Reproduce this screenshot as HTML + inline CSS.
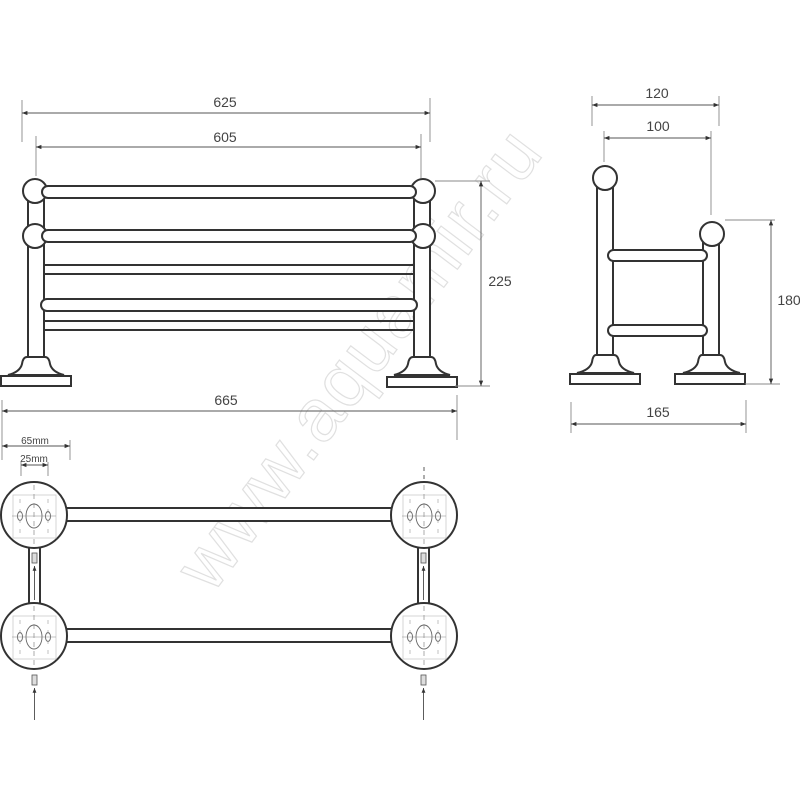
<!DOCTYPE html>
<html><head><meta charset="utf-8"><style>
html,body{margin:0;padding:0;background:#fff;}
svg{display:block;}
text{font-family:"Liberation Sans","DejaVu Sans",sans-serif;}
</style></head><body>
<svg width="800" height="800" viewBox="0 0 800 800" xmlns="http://www.w3.org/2000/svg">
<defs>
<marker id="a" viewBox="0 0 10 10" refX="10" refY="5" markerWidth="6" markerHeight="6" orient="auto-start-reverse"><path d="M0,1 L10,5 L0,9z" fill="#333"/></marker>
<g id="mount">
  <circle cx="0" cy="0" r="33" fill="#fff" stroke="#333" stroke-width="2"/>
  <rect x="-21" y="-20" width="43" height="43" fill="none" stroke="#ccc" stroke-width="0.8"/>
  <ellipse cx="0" cy="1" rx="8" ry="12" fill="none" stroke="#666" stroke-width="0.9"/>
  <ellipse cx="-14" cy="1" rx="2.5" ry="4.5" fill="none" stroke="#666" stroke-width="0.9"/>
  <ellipse cx="14" cy="1" rx="2.5" ry="4.5" fill="none" stroke="#666" stroke-width="0.9"/>
  <line x1="-22" y1="1" x2="22" y2="1" stroke="#888" stroke-width="0.6"/>
  <line x1="0" y1="-30" x2="0" y2="32" stroke="#888" stroke-width="0.7" stroke-dasharray="5,4"/>
  <line x1="-14" y1="-16" x2="-14" y2="20" stroke="#999" stroke-width="0.6" stroke-dasharray="4,6"/>
  <line x1="14" y1="-16" x2="14" y2="20" stroke="#999" stroke-width="0.6" stroke-dasharray="4,6"/>
</g>
</defs>

<!-- watermark -->
<text x="0" y="0" transform="translate(212,595) rotate(-53)" font-size="74" fill="#fff" stroke="#e0e0e0" stroke-width="1.2" letter-spacing="2">www.aquamir.ru</text>

<g stroke="#333" stroke-width="2" fill="#fff">
<!-- FRONT VIEW posts -->
<rect x="28" y="195" width="16" height="162"/>
<path d="M27,357 L45,357 Q49,357 50,364 Q52,372 64,375 L8,375 Q20,372 22,364 Q23,357 27,357Z"/>
<rect x="1" y="376" width="70" height="10"/>
<circle cx="35" cy="191" r="12"/><circle cx="35" cy="236" r="12"/>
<rect x="414" y="195" width="16" height="162"/>
<path d="M413,357 L431,357 Q435,357 436,364 Q438,372 450,375 L394,375 Q406,372 408,364 Q409,357 413,357Z"/>
<rect x="387" y="377" width="70" height="10"/>
<circle cx="423" cy="191" r="12"/><circle cx="423" cy="236" r="12"/>
<!-- rails -->
<rect x="42" y="186" width="374" height="12" rx="6"/>
<rect x="42" y="230" width="374" height="12" rx="6"/>
<rect x="41" y="299" width="376" height="12" rx="6"/>
<line x1="44" y1="265" x2="414" y2="265"/><line x1="44" y1="274" x2="414" y2="274"/>
<line x1="44" y1="321" x2="414" y2="321"/><line x1="44" y1="330" x2="414" y2="330"/>

<!-- SIDE VIEW -->
<rect x="597" y="183" width="16" height="172"/>
<path d="M596,355 L614,355 Q618,355 619,362 Q621,370 634,373 L577,373 Q590,370 592,362 Q593,355 596,355Z"/>
<rect x="570" y="374" width="70" height="10"/>
<circle cx="605" cy="178" r="12"/>
<rect x="703" y="239" width="16" height="116"/>
<path d="M702,355 L720,355 Q724,355 725,362 Q727,370 740,373 L683,373 Q696,370 698,362 Q699,355 702,355Z"/>
<rect x="675" y="374" width="70" height="10"/>
<circle cx="712" cy="234" r="12"/>
<rect x="608" y="250" width="99" height="11" rx="5.5"/>
<rect x="608" y="325" width="99" height="11" rx="5.5"/>

<!-- TOP VIEW -->
<rect x="60" y="508" width="340" height="13"/>
<rect x="60" y="629" width="340" height="13"/>
<rect x="29" y="546" width="11" height="60"/>
<rect x="418" y="546" width="11" height="60"/>
</g>
<use href="#mount" x="34" y="515"/>
<use href="#mount" x="424" y="515"/>
<use href="#mount" x="34" y="636"/>
<use href="#mount" x="424" y="636"/>
<g stroke="#555" stroke-width="0.8" fill="#ddd">
<rect x="32" y="553" width="5" height="10"/><rect x="421" y="553" width="5" height="10"/>
<rect x="32" y="675" width="5" height="10"/><rect x="421" y="675" width="5" height="10"/>
</g>
<g stroke="#333" stroke-width="0.8" fill="none">
<line x1="34.5" y1="600" x2="34.5" y2="566" marker-end="url(#a)"/>
<line x1="423.5" y1="600" x2="423.5" y2="566" marker-end="url(#a)"/>
<line x1="34.5" y1="720" x2="34.5" y2="688" marker-end="url(#a)"/>
<line x1="423.5" y1="720" x2="423.5" y2="688" marker-end="url(#a)"/>
<line x1="424" y1="467" x2="424" y2="480" stroke-dasharray="4,4"/>
</g>

<!-- DIMENSIONS -->
<g stroke="#888" stroke-width="0.9" fill="none">
<line x1="22" y1="100" x2="22" y2="142"/><line x1="430" y1="98" x2="430" y2="142"/>
<line x1="36" y1="136" x2="36" y2="176"/><line x1="421" y1="134" x2="421" y2="178"/>
<line x1="2" y1="400" x2="2" y2="440"/><line x1="457" y1="395" x2="457" y2="440"/>
<line x1="435" y1="181" x2="490" y2="181"/><line x1="455" y1="386" x2="490" y2="386"/>
<line x1="592" y1="96" x2="592" y2="126"/><line x1="719" y1="96" x2="719" y2="126"/>
<line x1="604" y1="131" x2="604" y2="162"/><line x1="711" y1="131" x2="711" y2="215"/>
<line x1="725" y1="220" x2="775" y2="220"/><line x1="745" y1="384" x2="780" y2="384"/>
<line x1="571" y1="402" x2="571" y2="433"/><line x1="746" y1="400" x2="746" y2="433"/>
<line x1="2" y1="440" x2="2" y2="460"/><line x1="70" y1="440" x2="70" y2="460"/>
<line x1="21" y1="462" x2="21" y2="476"/><line x1="48" y1="462" x2="48" y2="476"/>
</g>
<g stroke="#555" stroke-width="0.9" fill="none">
<line x1="22" y1="113" x2="430" y2="113" marker-start="url(#a)" marker-end="url(#a)"/>
<line x1="36" y1="147" x2="421" y2="147" marker-start="url(#a)" marker-end="url(#a)"/>
<line x1="2" y1="411" x2="457" y2="411" marker-start="url(#a)" marker-end="url(#a)"/>
<line x1="481" y1="181" x2="481" y2="386" marker-start="url(#a)" marker-end="url(#a)"/>
<line x1="592" y1="105" x2="719" y2="105" marker-start="url(#a)" marker-end="url(#a)"/>
<line x1="604" y1="138" x2="711" y2="138" marker-start="url(#a)" marker-end="url(#a)"/>
<line x1="771" y1="220" x2="771" y2="384" marker-start="url(#a)" marker-end="url(#a)"/>
<line x1="571" y1="424" x2="746" y2="424" marker-start="url(#a)" marker-end="url(#a)"/>
<line x1="2" y1="446" x2="70" y2="446" marker-start="url(#a)" marker-end="url(#a)"/>
<line x1="21" y1="465" x2="48" y2="465" marker-start="url(#a)" marker-end="url(#a)"/>
</g>
<g fill="#444" font-size="14" text-anchor="middle">
<text x="225" y="107">625</text>
<text x="225" y="142">605</text>
<text x="226" y="405">665</text>
<text x="500" y="286">225</text>
<text x="657" y="98">120</text>
<text x="658" y="131">100</text>
<text x="658" y="417">165</text>
<text x="789" y="305">180</text>
<text x="35" y="444" font-size="10">65mm</text>
<text x="34" y="462" font-size="10">25mm</text>
</g>
</svg>
</body></html>
